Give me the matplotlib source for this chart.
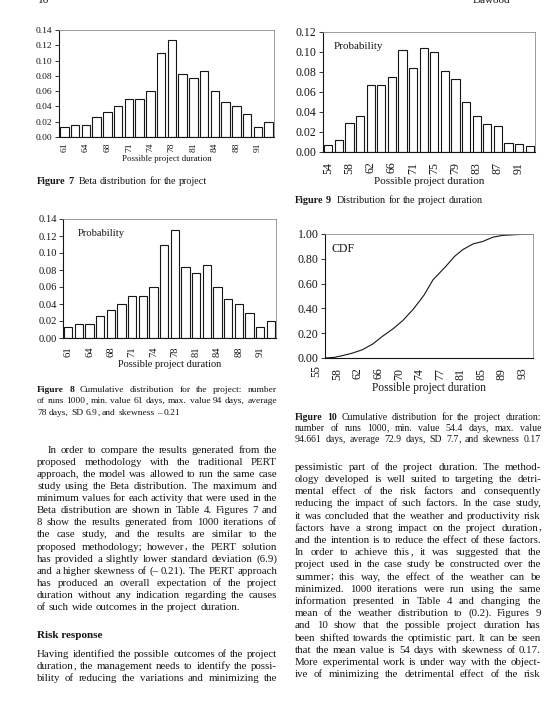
import numpy as np
import matplotlib
matplotlib.use('Agg')
import matplotlib.pyplot as plt
import matplotlib.transforms as mtransforms

# Figure 7 / 8 : Beta distribution (PERT) for the project
beta_prob = [0.013, 0.016, 0.016, 0.026, 0.033, 0.040, 0.050, 0.050, 0.060, 0.110,
             0.127, 0.083, 0.077, 0.086, 0.060, 0.046, 0.040, 0.030, 0.013, 0.020]
beta_labels = ['61', '64', '68', '71', '74', '78', '81', '84', '88', '91']

# Figure 9 : distribution for the project duration (summer)
summer_prob = [0.007, 0.012, 0.029, 0.036, 0.067, 0.067, 0.075, 0.102, 0.084, 0.104,
               0.100, 0.081, 0.073, 0.050, 0.036, 0.028, 0.026, 0.009, 0.008, 0.006]
summer_labels = ['54', '58', '62', '66', '71', '75', '79', '83', '87', '91']

# Figure 10 : cumulative distribution
cdf_days = [56.6, 58.3, 59.8, 61.7, 63.5, 65.4, 67.2, 69.1, 70.9, 72.8, 74.0, 74.9,
            76.5, 77.7, 78.9, 80.5, 82.0, 83.9, 85.7, 87.6, 89.4, 91.9, 94.9]
cdf_vals = [0.0, 0.005, 0.019, 0.040, 0.067, 0.113, 0.175, 0.234, 0.300, 0.390, 0.457, 0.510,
            0.630, 0.685, 0.740, 0.820, 0.874, 0.920, 0.940, 0.975, 0.989, 0.995, 1.0]
cdf_ticks = [55 + 3.8 * i for i in range(11)]
cdf_labels = ['55', '58', '62', '66', '70', '74', '77', '81', '85', '89', '93']

left_text = [
    "In order to compare the results generated from the",
    "proposed methodology with the traditional PERT",
    "approach, the model was allowed to run the same case",
    "study using the Beta distribution. The maximum and",
    "minimum values for each activity that were used in the",
    "Beta distribution are shown in Table 4. Figures 7 and",
    "8 show the results generated from 1000 iterations of",
    "the case study, and the results are similar to the",
    "proposed methodology; however, the PERT solution",
    "has provided a slightly lower standard deviation (6.9)",
    "and a higher skewness of (\u2013 0.21). The PERT approach",
    "has produced an overall expectation of the project",
    "duration without any indication regarding the causes",
    "of such wide outcomes in the project duration.",
]
left_text2 = [
    "Having identified the possible outcomes of the project",
    "duration, the management needs to identify the possi-",
    "bility of reducing the variations and minimizing the",
]
right_text = [
    "pessimistic part of the project duration. The method-",
    "ology developed is well suited to targeting the detri-",
    "mental effect of the risk factors and consequently",
    "reducing the impact of such factors. In the case study,",
    "it was concluded that the weather and productivity risk",
    "factors have a strong impact on the project duration,",
    "and the intention is to reduce the effect of these factors.",
    "In order to achieve this, it was suggested that the",
    "project used in the case study be constructed over the",
    "summer; this way, the effect of the weather can be",
    "minimized. 1000 iterations were run using the same",
    "information presented in Table 4 and changing the",
    "mean of the weather distribution to (0.2). Figures 9",
    "and 10 show that the possible project duration has",
    "been shifted towards the optimistic part. It can be seen",
    "that the mean value is 54 days with skewness of 0.17.",
    "More experimental work is under way with the object-",
    "ive of minimizing the detrimental effect of the risk",
]
cap7 = ("Figure 7", ["Beta distribution for the project"])
cap8 = ("Figure 8", ["Cumulative distribution for the project: number",
                     "of runs 1000, min. value 61 days, max. value 94 days, average",
                     "78 days, SD 6.9, and skewness \u2013 0.21"])
cap9 = ("Figure 9", ["Distribution for the project duration"])
cap10 = ("Figure 10", ["Cumulative distribution for the project duration:",
                       "number of runs 1000, min. value 54.4 days, max. value",
                       "94.661 days, average 72.9 days, SD 7.7, and skewness 0.17"])

plt.rcParams['font.family'] = ['Liberation Serif', 'DejaVu Serif']

INK = '#161616'


def comma_drop(size):
    # how far agg drops a word that ends in a bare comma (measured on a probe)
    pf = plt.figure(figsize=(1.0, 0.4), dpi=100)
    pf.text(0.10, 0.5, 'a', fontsize=size, va='baseline', color='k')
    pf.text(0.55, 0.5, 'a,', fontsize=size, va='baseline', color='k')
    pf.canvas.draw()
    img = np.asarray(pf.canvas.buffer_rgba())[:, :, 0]
    plt.close(pf)

    def bottom(c0):
        cols = img[:, c0:c0 + 4]
        rows = np.where((cols < 140).any(axis=1))[0]
        return rows.max() if len(rows) else None

    b1, b2 = bottom(10), bottom(55)
    if b1 is None or b2 is None:
        return 0
    return int(b2 - b1)


W, H = 549, 703
fig = plt.figure(figsize=(W / 100, H / 100), dpi=100)
renderer = fig.canvas.get_renderer()
drops = {}


def px_axes(left, top, right, bottom):
    return fig.add_axes([left / W, 1 - bottom / H, (right - left) / W, (bottom - top) / H])


def style_axes(ax, size, xpad):
    for s in ['top', 'right']:
        ax.spines[s].set_color('#8c8c8c')
        ax.spines[s].set_linewidth(0.6)
    for s in ['left', 'bottom']:
        ax.spines[s].set_color(INK)
        ax.spines[s].set_linewidth(0.8)
    ax.tick_params(axis='y', direction='out', length=3, width=0.6, pad=1.5,
                   labelsize=size, colors=INK)
    ax.tick_params(axis='x', length=0, pad=xpad, labelsize=size, colors=INK)


def bar_chart(ax, probs, labels, ymax, size, label_size, xpad):
    xs = np.arange(len(probs))
    ax.bar(xs, probs, width=0.78, color='white', edgecolor=INK, linewidth=0.8)
    ax.set_xlim(-0.5, len(probs) - 0.5)
    ax.set_ylim(0, ymax)
    yt = np.arange(0, ymax + 1e-9, 0.02)
    ax.set_yticks(yt, ['%.2f' % v for v in yt])
    ax.set_xticks(xs[::2], labels, rotation=90)
    ax.set_xlabel('Possible project duration', fontsize=label_size, labelpad=2, color=INK)
    style_axes(ax, size, xpad)


# Figure 7
ax7 = px_axes(59, 30, 274, 137)
bar_chart(ax7, beta_prob, beta_labels, 0.14, 6.8, 6.4, 4)

# Figure 9
ax9 = px_axes(323, 32, 535, 152)
bar_chart(ax9, summer_prob, summer_labels, 0.12, 8.6, 8.0, 7)
ax9.text(0.05, 0.92, 'Probability', transform=ax9.transAxes, fontsize=8,
         va='top', ha='left', color=INK)

# Figure 8
ax8 = px_axes(63, 219, 276, 338)
bar_chart(ax8, beta_prob, beta_labels, 0.14, 7.6, 7.5, 6)
ax8.text(0.07, 0.92, 'Probability', transform=ax8.transAxes, fontsize=7.6,
         va='top', ha='left', color=INK)

# Figure 10
ax10 = px_axes(325, 234, 533, 358)
ax10.plot(cdf_days, cdf_vals, color=INK, linewidth=0.8)
ax10.set_xlim(56.6, 94.95)
ax10.set_ylim(0, 1.0)
yt = np.arange(0, 1.0001, 0.2)
ax10.set_yticks(yt, ['%.2f' % v for v in yt])
ax10.set_xticks(cdf_ticks[1:], cdf_labels[1:], rotation=90)
style_axes(ax10, 8.6, 7)
trans = mtransforms.blended_transform_factory(ax10.transData, ax10.transAxes)
ax10.text(cdf_ticks[0], -0.058, cdf_labels[0], transform=trans, rotation=90,
          ha='center', va='top', fontsize=8.6, color=INK, clip_on=False)
ax10.set_xlabel('Possible project duration', fontsize=8.3, labelpad=2, color=INK)
ax10.text(0.03, 0.93, 'CDF', transform=ax10.transAxes, fontsize=8.5,
          va='top', ha='left', color=INK)


def put(x, y, s, size, weight='normal'):
    # y is the visual middle of the line; place the baseline a little below it
    base = y + 0.3 * size * 100 / 72
    return fig.text(x / W, 1 - base / H, s, fontsize=size, fontweight=weight,
                    ha='left', va='baseline', color=INK)


def width_of(t):
    return t.get_window_extent(renderer).width


def word_parts(w):
    # a trailing comma/semicolon on a word with no other descender is drawn apart
    if len(w) > 1 and w[-1] in ',;' and not any(c in 'gjpqy(),;' for c in w[:-1]):
        return [w[:-1], w[-1]]
    return [w]


def set_line(x, x1, y, words, size, justify, bold=0):
    if size not in drops:
        drops[size] = comma_drop(size)
    units = []
    for j, w in enumerate(words):
        weight = 'bold' if j < bold else 'normal'
        parts = word_parts(w)
        objs = []
        for p in parts:
            lift = drops[size] if (len(parts) > 1 and p in ',;') else 0
            objs.append(put(x, y - lift, p, size, weight))
        units.append((objs, [width_of(o) for o in objs]))
    total = sum(sum(ws) for _, ws in units)
    space = 0.25 * size * 100 / 72
    if justify and len(units) > 1:
        gap = (x1 - x - total) / (len(units) - 1)
    else:
        gap = space
    cx = x
    for j, (objs, ws) in enumerate(units):
        for o, wd in zip(objs, ws):
            o.set_x(cx / W)
            cx += wd
        cx += gap
        if bold and j == bold - 1 and not justify:
            cx += space * 1.2


def text_block(lines, x0, x1, y0, pitch, size, indent=0, justify_last=False):
    for i, line in enumerate(lines):
        last = i == len(lines) - 1
        left = x0 + (indent if i == 0 else 0)
        set_line(left, x1, y0 + i * pitch, line.split(), size, justify_last or not last)


def caption(cap, x0, x1, y0, pitch, size, justify_last=False):
    head, lines = cap
    for i, line in enumerate(lines):
        last = i == len(lines) - 1
        words = (head.split() + line.split()) if i == 0 else line.split()
        set_line(x0, x1, y0 + i * pitch, words, size, justify_last or not last,
                 bold=2 if i == 0 else 0)


# captions
caption(cap7, 37, 277, 181, 11.5, 7.3)
caption(cap9, 295, 541, 200, 11.5, 7.3)
caption(cap8, 37, 277, 389, 11.6, 6.8)
caption(cap10, 295, 541, 417, 11.0, 7.0, justify_last=True)

# body text
text_block(left_text, 37, 277, 449.5, 12.1, 7.8, indent=11)
put(37, 635, 'Risk response', 8, 'bold')
text_block(left_text2, 37, 277, 653.5, 12.1, 7.8, justify_last=True)
text_block(right_text, 295, 541, 466.5, 12.2, 7.8, justify_last=True)

# running header (cut off at the top of the scan)
put(38, -0.5, '16', 8)
put(473, -0.5, 'Dawood', 8)

fig.savefig('out.png', dpi=100)
